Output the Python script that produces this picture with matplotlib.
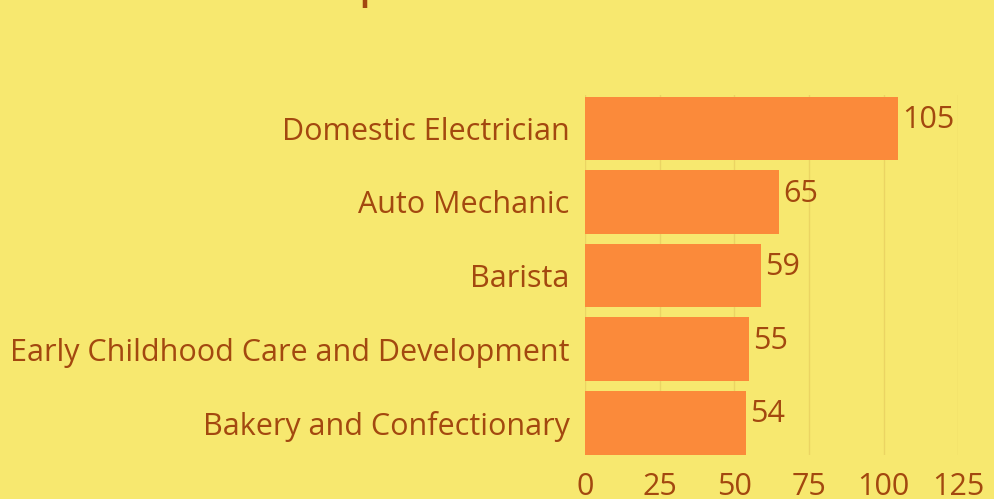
import matplotlib
matplotlib.use("Agg")
import matplotlib.pyplot as plt

courses = [
    "Domestic Electrician",
    "Auto Mechanic",
    "Barista",
    "Early Childhood Care and Development",
    "Bakery and Confectionary",
]
enrolments = [105, 65, 59, 55, 54]
xticks = [0, 25, 50, 75, 100, 125]

BG = "#F7E86F"
BAR = "#FB8A3A"
TXT = "#A3480F"
GRID = "#EBD463"

plt.rcParams["font.family"] = ["Open Sans", "DejaVu Sans"]

fig = plt.figure(figsize=(9.95, 4.99), dpi=100, facecolor=BG)
ax = fig.add_axes([0.588, 0.088, 0.375, 0.721], facecolor=BG)

ypos = list(range(len(courses)))
ax.barh(ypos, enrolments, height=0.865, color=BAR, zorder=2)
for y, v in zip(ypos, enrolments):
    ax.annotate(str(v), (v, y), xytext=(3, 6), textcoords="offset points",
                va="center", ha="left", fontsize=22, color=TXT)

ax.set_xlim(0, 125)
ax.set_ylim(4.44, -0.45)
ax.set_yticks(ypos)
ax.set_yticklabels(courses)
ax.set_xticks(xticks)
ax.tick_params(axis="y", length=0, pad=11, labelsize=22, labelcolor=TXT)
ax.tick_params(axis="x", length=0, pad=12, labelsize=22, labelcolor=TXT)
ax.grid(axis="x", color=GRID, linewidth=1, zorder=0)
for s in ax.spines.values():
    s.set_visible(False)

# title sits above the visible area; only the descender shows
fig.text(0.295, 1.012, "Top Courses", fontsize=40, color=TXT, ha="left", va="baseline")

fig.savefig("out.png", dpi=100, facecolor=BG)
